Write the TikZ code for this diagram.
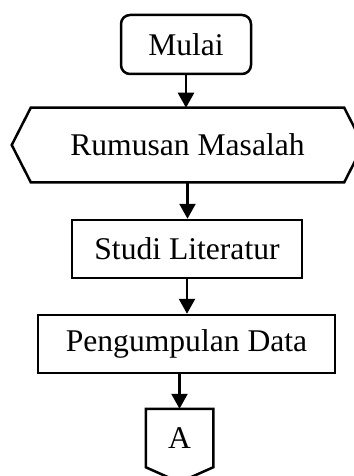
\documentclass[tikz,border=0pt]{standalone}
\usepackage{fontspec}
\setmainfont{Liberation Serif}
\usetikzlibrary{arrows.meta}

\begin{document}
\begin{tikzpicture}[x=0.5pt, y=-0.5pt, line width=1.25pt,
    font=\fontsize{15.8}{19}\selectfont,
    box/.style={draw, inner sep=0pt, minimum height=29pt},
    flow/.style={-{Triangle[width=8pt, length=7.5pt]}}]

    \useasboundingbox (0, 0) rectangle (353, 476);

    \node [box, rounded corners=4.5pt, minimum width=65pt, minimum height=29.5pt] (a) at (186, 44.5) {Mulai};
    \node [inner sep=0pt, minimum width=155.5pt, minimum height=36pt] (b) at (187.5, 145) {Rumusan Masalah};
    \node [box, minimum width=115pt] (c) at (187, 249) {Studi Literatur};
    \node [box, minimum width=148.5pt] (d) at (186.5, 344) {Pengumpulan Data};
    \node [inner sep=0pt, minimum width=32.5pt, minimum height=28pt] (e) at (179.5, 438) {A};

    % preparation shape
    \draw (b.north west) -- (b.north east) -- ([xshift=9.5pt]b.east) -- (b.south east)
        -- (b.south west) -- ([xshift=-9.5pt]b.west) -- cycle;
    % off-page connector
    \draw (e.south west) -- (e.north west) -- (e.north east) -- (e.south east)
        -- ([yshift=-7.5pt]e.south) -- cycle;

    \draw [flow] (a.south) -- (a.south |- b.north);
    \draw [flow] (b.south) -- (b.south |- c.north);
    \draw [flow] (c.south) -- (c.south |- d.north);
    \draw [flow] (d.south -| e.north) -- (e.north);

\end{tikzpicture}
\end{document}
